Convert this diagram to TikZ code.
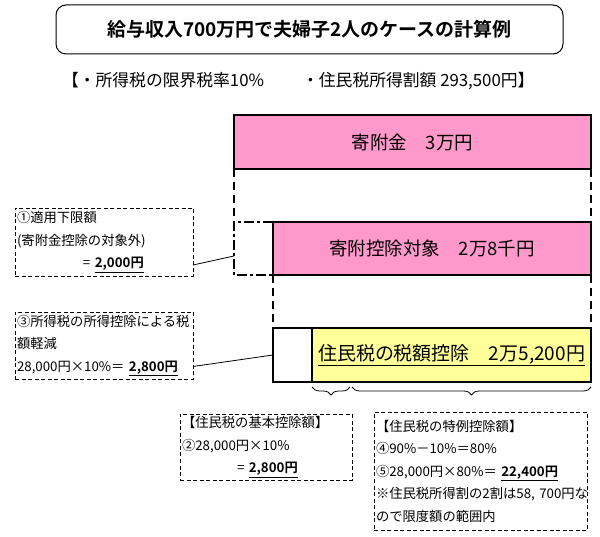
\documentclass[tikz,border=0pt]{standalone}
\usepackage{fontspec}
\setmainfont{Noto Sans CJK JP}[BoldFont={Noto Sans CJK JP Bold}]
\usetikzlibrary{decorations.pathreplacing}
\definecolor{pinkfill}{HTML}{FF99CC}
\definecolor{yellowfill}{HTML}{FFFF99}
\begin{document}
\begin{tikzpicture}[x=1pt,y=-1pt,
  every node/.style={outer sep=0pt},
  titlebox/.style={draw=black, line width=1pt, rounded corners=10pt, inner sep=0pt,
    font=\bfseries\fontsize{19pt}{22pt}\selectfont},
  bigbox/.style={draw=black, line width=2pt, inner sep=0pt,
    font=\fontsize{18.5pt}{22pt}\selectfont},
  notebox/.style={draw=black, line width=0.9pt, dash pattern=on 4pt off 2.5pt,
    inner xsep=2pt, inner ysep=0pt, align=left,
    font=\fontsize{13.3pt}{22.5pt}\selectfont},
  thickdash/.style={line width=2pt, dash pattern=on 8pt off 5pt},
  dashdotline/.style={line width=2pt, dash pattern=on 10pt off 3pt on 3pt off 3pt},
  leader/.style={line width=0.8pt},
  bracestyle/.style={line width=0.8pt, decorate, decoration={brace, mirror, amplitude=8pt}}
]
\useasboundingbox (0,0) rectangle (600,537);
\fill[white] (0,0) rectangle (600,537);

% title and subtitle
\node[titlebox, anchor=north west, minimum width=507pt, minimum height=49pt] (title) at (56,5)
  {給与収入700万円で夫婦子2人のケースの計算例};
\node[anchor=west, inner sep=0pt, font=\fontsize{16.8pt}{20pt}\selectfont] (sub) at (62,81)
  {【・所得税の限界税率10\%\hspace{38pt}・住民税所得割額 293,500円】};

% main boxes
\node[bigbox, fill=pinkfill, anchor=north west, minimum width=357pt, minimum height=54pt] (gift) at (234,115)
  {寄附金　3万円};
\node[bigbox, fill=pinkfill, anchor=north west, minimum width=318pt, minimum height=53pt] (target) at (273,222)
  {寄附控除対象　2万8千円};
\node[bigbox, fill=white, anchor=north west, minimum width=39pt, minimum height=54pt] (white) at (273,328) {};
\node[bigbox, fill=yellowfill, anchor=north west, minimum width=279pt, minimum height=54pt,
  font=\fontsize{19pt}{22pt}\selectfont] (yellow) at (312,328)
  {\underline{住民税の税額控除　2万5,200円}};

% dashed connections between boxes
\coordinate (exnw) at (gift.south west |- target.north west);
\coordinate (exsw) at (gift.south west |- target.south west);
\draw[thickdash] (gift.south west) -- (exnw);
\draw[dashdotline] (target.north west) -- (exnw) -- (exsw) -- (target.south west);
\draw[thickdash] (gift.south east) -- (target.north east);
\draw[thickdash] (target.south west) -- (white.north west);
\draw[thickdash] (target.south east) -- (yellow.north east);

% note boxes
\node[notebox, anchor=north west, text width=174pt, minimum height=68pt] (note1) at (15,208)
  {①適用下限額\\(寄附金控除の対象外)\\\hspace*{66pt}=\ \textbf{\underline{2,000円}}};
\node[notebox, anchor=north west, text width=174pt, minimum height=67pt] (note2) at (15,312)
  {③所得税の所得控除による税\\額軽減\\28,000円×10\%＝ \textbf{\underline{2,800円}}};
\node[notebox, anchor=north west, text width=168pt, minimum height=66pt] (note3) at (180,414)
  {【住民税の基本控除額】\\②28,000円×10\%\\\hspace*{55pt}=\ \textbf{\underline{2,800円}}};
\node[notebox, anchor=north west, text width=209pt, minimum height=118pt] (note4) at (374,412)
  {【住民税の特例控除額】\\④90\%－10\%＝80\%\\⑤28,000円×80\%＝ \textbf{\underline{22,400円}}\\※住民税所得割の2割は58,~700円な\\ので限度額の範囲内};

% leader lines
\coordinate (l1end) at (234,256);
\draw[leader] ([yshift=-23pt]note1.east) -- (l1end);
\draw[leader] ([yshift=-21pt]note2.east) -- (white.west);

% braces
\coordinate (b1a) at (312,387);
\coordinate (b1b) at (350,387);
\coordinate (b2a) at (352,387);
\coordinate (b2b) at (591,387);
\draw[bracestyle] (b1a) -- (b1b);
\draw[bracestyle] (b2a) -- (b2b);
\end{tikzpicture}
\end{document}
